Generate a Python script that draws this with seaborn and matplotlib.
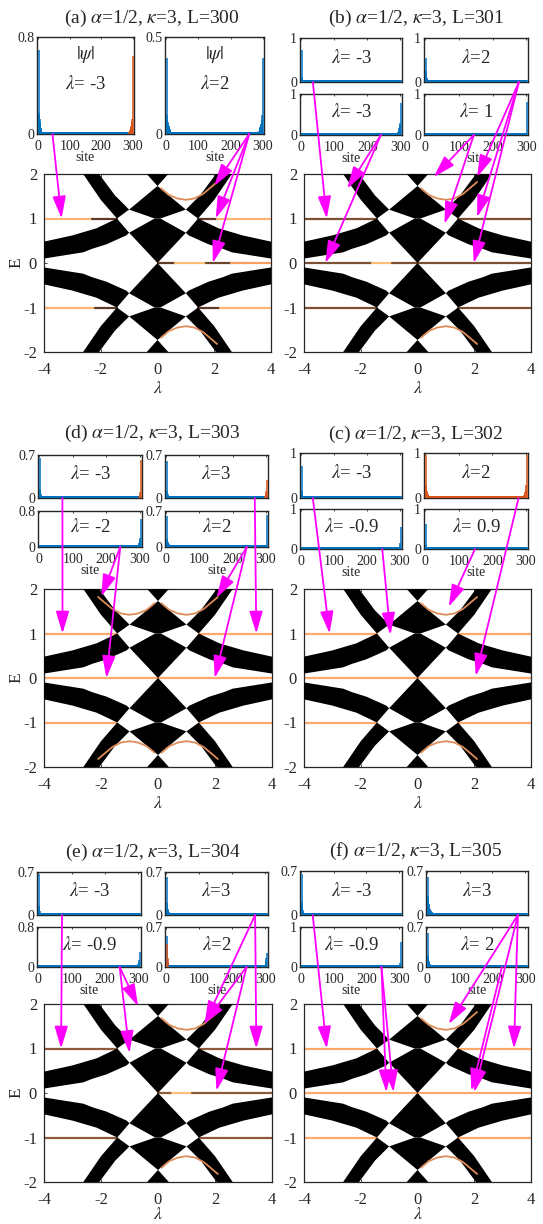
import numpy as np
import matplotlib
matplotlib.use("Agg")
import matplotlib.pyplot as plt
import seaborn as sns
from matplotlib.patches import ConnectionPatch, ArrowStyle

sns.set_theme(style="ticks")
plt.rcParams["font.family"] = ["Liberation Serif", "DejaVu Serif"]
plt.rcParams["mathtext.fontset"] = "stix"
plt.rcParams["axes.unicode_minus"] = False

W, H = 543, 1224
BLUE, ORANGE, MAGENTA = "#0072BD", "#D95319", "#FF00FF"

# ---------------- spectrum: bulk band regions (lambda<=0, E>=0 quadrant) ----------------
ARM_LAM = [-2.62, -2.0, -1.43, -1.0, -1.5, -2.06]
ARM_E = [2.0, 1.42, 1.0, 1.2, 1.52, 2.0]
WING_LAM = [-4.0, -3.0, -2.15, -1.43, -1.0, -1.1, -1.8, -2.3, -2.62, -4.0]
WING_E = [0.48, 0.62, 0.78, 1.0, 0.68, 0.62, 0.42, 0.32, 0.24, 0.10]
# central chain (symmetric in lambda)
CTOP_LAM = [-0.38, 0.38, 0.0]
CTOP_E = [2.0, 2.0, 1.73]
CUP_LAM = [0.0, -1.0, -0.1, 0.1, 1.0]
CUP_E = [1.73, 1.2, 1.0, 1.0, 1.2]
CLOW_LAM = [-0.1, -1.0, 0.0, 1.0, 0.1]
CLOW_E = [1.0, 0.68, 0.0, 0.68, 1.0]

# edge-state branch between the central chain and the arm (lambda>0, E>0)
EDGE_LAM = [0.12, 0.4, 0.7, 1.0, 1.3, 1.6, 1.88, 2.1]
EDGE_E = [1.68, 1.53, 1.45, 1.42, 1.45, 1.55, 1.70, 1.82]

# flat levels: (E, lambda from, lambda to, copper shade)
LINES_A = [(1, -4, -2.3, .9), (1, -2.3, -1.43, .3), (1, 1.43, 2.1, .3), (1, 2.1, 4, .9),
           (-1, -4, -2.2, .9), (-1, -2.2, -1.43, .3), (-1, 1.43, 2.2, .3), (-1, 2.2, 4, .9),
           (0, 0, .6, .3), (0, .6, 1.7, .95), (0, 1.7, 2.6, .35), (0, 2.6, 4, .8)]
LINES_B = [(1, -4, -1.43, .4), (1, 1.43, 4, .4), (-1, -4, -1.43, .4), (-1, 1.43, 4, .4),
           (0, -4, -1.6, .4), (0, -1.6, -0.9, .95), (0, -0.9, 4, .4)]
LINES_D = [(1, -4, -1.43, .85), (1, 1.43, 4, .85), (-1, -4, -1.43, .85), (-1, 1.43, 4, .85),
           (0, -4, 4, .85)]
LINES_C = [(1, -4, -1.43, .85), (1, 1.43, 4, .85), (-1, -4, -1.43, .85), (-1, 1.43, 4, .85),
           (0, -4, 4, .85)]
LINES_E = [(1, -4, -1.43, .45), (1, 1.43, 4, .45), (-1, -4, -1.43, .45), (-1, 1.43, 4, .45),
           (0, 0, .5, .45), (0, .5, 1.2, .95), (0, 1.2, 4, .45)]
LINES_F = [(1, -4, -1.43, .85), (1, 1.43, 4, .85), (-1, -4, -1.43, .85), (-1, 1.43, 4, .85),
           (0, -4, 4, .85)]

# which quadrants carry the edge-state branch: (sign of lambda, sign of E)
CURVES_A = [(1, 1), (1, -1)]
CURVES_B = [(1, 1), (1, -1)]
CURVES_D = [(1, 1), (-1, 1), (1, -1), (-1, -1)]
CURVES_C = [(1, 1), (1, -1)]
CURVES_E = [(1, 1), (1, -1)]
CURVES_F = [(1, 1), (1, -1)]

TITLES = [r"(a) $\alpha$=1/2, $\kappa$=3, L=300", r"(b) $\alpha$=1/2, $\kappa$=3, L=301",
          r"(d) $\alpha$=1/2, $\kappa$=3, L=303", r"(c) $\alpha$=1/2, $\kappa$=3, L=302",
          r"(e) $\alpha$=1/2, $\kappa$=3, L=304", r"(f) $\alpha$=1/2, $\kappa$=3, L=305"]
SIZES = [300, 301, 303, 302, 304, 305]

# ---------------- |psi| per site: (label, ymax, blue left, blue right, orange left, orange right) ----
INSETS_A = [(r"$\lambda$= -3", 0.8, [0.69, 0.17, 0.15, 0.12, 0.1, 0.08, 0.06, 0.05, 0.04, 0.03, 0.02], [],
             [], [0.64, 0.12, 0.1, 0.08, 0.07, 0.06, 0.05, 0.04, 0.03, 0.025, 0.02, 0.015]),
            (r"$\lambda$=2", 0.5, [0.39, 0.1, 0.07, 0.06, 0.05, 0.045, 0.04, 0.035, 0.03, 0.025, 0.02, 0.015],
             [0.39, 0.1, 0.07, 0.06, 0.05, 0.045, 0.04, 0.035, 0.03, 0.025, 0.02, 0.015], [], [])]
INSETS_B = [(r"$\lambda$= -3", 1, [0.73, 0.12, 0.06, 0.04, 0.03, 0.02], [], [], []),
            (r"$\lambda$=2", 1, [0.55, 0.25, 0.12, 0.08, 0.06, 0.05, 0.04, 0.03, 0.02], [], [], []),
            (r"$\lambda$= -3", 1, [], [0.78, 0.3, 0.25, 0.2, 0.16, 0.13, 0.1, 0.08, 0.07, 0.06, 0.05,
                                       0.04, 0.03, 0.02], [], []),
            (r"$\lambda$= 1", 1, [], [0.8, 0.05, 0.03, 0.02], [], [])]
INSETS_D = [(r"$\lambda$= -3", 0.7, [0.65, 0.15, 0.1, 0.06, 0.04, 0.03, 0.02], [], [],
             [0.62, 0.1, 0.05, 0.03, 0.02]),
            (r"$\lambda$=3", 0.7, [0.6, 0.12, 0.08, 0.06, 0.04, 0.03, 0.02], [], [],
             [0.3, 0.12, 0.08, 0.05, 0.03]),
            (r"$\lambda$= -2", 0.8, [], [0.62, 0.2, 0.15, 0.12, 0.1, 0.08, 0.06, 0.05, 0.04, 0.03, 0.02],
             [], []),
            (r"$\lambda$=2", 0.7, [0.6, 0.15, 0.12, 0.1, 0.08, 0.06, 0.05, 0.04, 0.03, 0.02],
             [0.62, 0.04, 0.02], [], [])]
INSETS_C = [(r"$\lambda$= -3", 1, [0.72, 0.15, 0.08, 0.05, 0.03, 0.02], [], [], []),
            (r"$\lambda$=2", 1, [], [],
             [0.95, 0.3, 0.2, 0.16, 0.13, 0.1, 0.08, 0.06, 0.05, 0.04, 0.03, 0.025],
             [0.95, 0.3, 0.2, 0.16, 0.13, 0.1, 0.08, 0.06, 0.05, 0.04, 0.03, 0.025]),
            (r"$\lambda$= -0.9", 1, [], [0.55, 0.15, 0.08, 0.05, 0.03], [], []),
            (r"$\lambda$= 0.9", 1, [0.62, 0.1, 0.05, 0.03], [], [], [])]
INSETS_E = [(r"$\lambda$= -3", 0.7, [0.66, 0.15, 0.1, 0.06, 0.04, 0.03, 0.02], [], [], []),
            (r"$\lambda$=3", 0.7, [0.62, 0.2, 0.12, 0.1, 0.08, 0.06, 0.05, 0.04, 0.03, 0.02], [], [], []),
            (r"$\lambda$= -0.9", 0.8, [], [0.3, 0.15, 0.1, 0.08, 0.06, 0.04, 0.03, 0.02], [], []),
            (r"$\lambda$=2", 0.7, [0.55, 0.15, 0.1, 0.08, 0.06, 0.04, 0.03, 0.02],
             [0.25, 0.15, 0.1, 0.06, 0.03], [0.4, 0.04, 0.04, 0.15], [])]
INSETS_F = [(r"$\lambda$= -3", 0.7, [0.66, 0.2, 0.15, 0.08, 0.05, 0.03, 0.02], [], [], []),
            (r"$\lambda$=3", 0.7, [0.6, 0.3, 0.22, 0.18, 0.15, 0.12, 0.1, 0.09, 0.08, 0.07, 0.06, 0.05,
                                   0.045, 0.04, 0.035, 0.03, 0.025, 0.02, 0.018, 0.015, 0.012], [], [], []),
            (r"$\lambda$= -0.9", 1, [], [0.62, 0.1, 0.06, 0.04, 0.03, 0.02], [], []),
            (r"$\lambda$= 2", 0.7, [0.6, 0.2, 0.15, 0.1, 0.08, 0.06, 0.05, 0.04, 0.03, 0.02, 0.015],
             [], [], [])]

# arrows: (inset index, site, lambda, E)
ARROWS_A = [(0, 45, -3.38, 1.0), (1, 258, 2.0, 1.73), (1, 258, 2.05, 1.0), (1, 258, 1.95, 0.0)]
ARROWS_B = [(0, 35, -3.2, 1.0), (2, 241, -2.48, 1.67), (2, 241, -3.25, 0.0),
            (3, 144, 0.57, 1.93), (3, 144, 0.95, 0.88),
            (1, 278, 2.1, 1.93), (1, 278, 2.1, 1.03), (1, 278, 1.98, 0.0)]
ARROWS_D = [(0, 69, -3.35, 1.0), (1, 267, 3.45, 1.0), (2, 242, -1.99, 1.83), (2, 242, -1.81, 0.0),
            (3, 243, 2.05, 1.8), (3, 243, 1.99, 0.0)]
ARROWS_C = [(0, 35, -3.1, 1.0), (2, 246, -0.95, 0.97), (3, 148, 1.1, 1.6), (1, 278, 2.05, 0.05)]
ARROWS_E = [(0, 71, -3.4, 1.0), (1, 269, 3.45, 1.0), (1, 269, 1.64, 1.57),
            (2, 244, -0.7, 1.95), (2, 244, -1.0, 0.9), (3, 243, 2.05, 0.05), (3, 243, 1.6, 1.55)]
ARROWS_F = [(0, 35, -3.2, 1.0), (2, 246, -1.1, 0.02), (2, 246, -0.85, 0.02),
            (1, 278, 1.1, 1.55), (1, 278, 3.4, 1.0), (1, 278, 2.0, 0.02), (3, 229, 1.9, 0.05)]

# ---------------- layout (pixel boxes: left, top, right, bottom) ----------------
MAIN_BOX = [(44, 174, 271, 352), (304, 174, 531, 352), (44, 589, 272, 767),
            (304, 589, 531, 767), (44, 1004, 272, 1182), (304, 1004, 531, 1182)]
XLABEL_Y = [-0.16, -0.16, -0.16, -0.16, -0.135, -0.135]
TITLE_POS = [(152, 18), (416, 18), (152, 433), (416, 434), (153, 852), (416, 851)]
INSET_BOX = [
    [(37, 37, 134, 134), (165, 37, 264, 134)],
    [(300, 38, 402, 82), (424, 38, 528, 82), (300, 94, 402, 135), (424, 94, 528, 135)],
    [(38, 455, 142, 498), (165, 455, 268, 498), (38, 511, 142, 547), (165, 511, 268, 547)],
    [(300, 453, 402, 498), (424, 453, 528, 498), (300, 509, 402, 549), (424, 509, 528, 549)],
    [(37, 872, 141, 915), (165, 872, 268, 915), (37, 927, 141, 967), (165, 927, 268, 967)],
    [(300, 871, 402, 915), (426, 871, 528, 915), (300, 927, 402, 967), (426, 927, 528, 967)],
]

fig = plt.figure(figsize=(W / 100, H / 100), dpi=100)
fig.patch.set_facecolor("white")


def add_box(box):
    l, t, r, b = box
    return fig.add_axes([l / W, 1 - b / H, (r - l) / W, (b - t) / H])


def style_spines(ax, lw=0.9):
    for s in ax.spines.values():
        s.set_color("#262626")
        s.set_linewidth(lw)
    ax.tick_params(direction="in", color="#262626", length=2.5, width=0.6,
                   top=True, right=True)


def draw_bands(ax):
    for sl in (1, -1):
        for se in (1, -1):
            ax.fill([sl * v for v in ARM_LAM], [se * v for v in ARM_E], color="black", lw=0, zorder=3)
            ax.fill([sl * v for v in WING_LAM], [se * v for v in WING_E], color="black", lw=0, zorder=3)
    for se in (1, -1):
        ax.fill(CTOP_LAM, [se * v for v in CTOP_E], color="black", lw=0, zorder=3)
        ax.fill(CUP_LAM, [se * v for v in CUP_E], color="black", lw=0, zorder=3)
        ax.fill(CLOW_LAM, [se * v for v in CLOW_E], color="black", lw=0, zorder=3)


def draw_main(ax, lines, curves, left_col, xlabel_y):
    draw_bands(ax)
    for e, l0, l1, shade in lines:
        sns.lineplot(x=[l0, l1], y=[e, e], ax=ax, color=plt.cm.copper(shade), lw=1.6,
                     legend=False, zorder=2)
    for sl, se in curves:
        sns.lineplot(x=[sl * v for v in EDGE_LAM], y=[se * v for v in EDGE_E], ax=ax,
                     color=plt.cm.copper(0.7), lw=1.3, legend=False, sort=False, zorder=4)
    ax.set_xlim(-4, 4)
    ax.set_ylim(-2, 2)
    ax.set_xticks([-4, -2, 0, 2, 4])
    ax.set_yticks([-2, -1, 0, 1, 2])
    style_spines(ax)
    ax.tick_params(axis="x", labelsize=12, pad=7)
    ax.tick_params(axis="y", labelsize=12, pad=5)
    ax.set_xlabel(r"$\lambda$", fontsize=13)
    ax.xaxis.set_label_coords(0.5, xlabel_y)
    if left_col:
        ax.set_ylabel("E", fontsize=12.5)
        ax.yaxis.set_label_coords(-0.085, 0.5)
    else:
        ax.set_ylabel("")


def profile(n, left, right, floor):
    y = np.full(n, floor)
    if left:
        y[:len(left)] = left
    if right:
        y[n - len(right):] = right[::-1]
    return y


def draw_inset(ax, spec, n, show_x, psi_tag, height_px):
    label, ymax, bl, br, ol, orr = spec
    sites = np.arange(1, n + 1)
    floor = 1.8 / height_px * ymax
    if bl or br:
        ax.vlines(sites, 0, profile(n, bl, br, floor), color=BLUE, lw=1.1, zorder=3)
    if ol or orr:
        base = 0.0 if (bl or br) else floor
        ax.vlines(sites, 0, profile(n, ol, orr, base), color=ORANGE, lw=1.1, zorder=4)
    ax.set_xlim(-4, n + 4)
    ax.set_ylim(0, ymax)
    ax.set_yticks([0, ymax])
    ax.set_yticklabels(["0", f"{ymax:g}"])
    ax.set_xticks([0, 100, 200, 300])
    style_spines(ax, 1.0)
    ax.tick_params(labelsize=10, length=1.5)
    ax.tick_params(axis="x", pad=4)
    ax.tick_params(axis="y", pad=2)
    if show_x:
        ax.set_xticklabels(["0", "100", "200", "300"])
        ax.set_xlabel("site", fontsize=10, labelpad=-1)
    else:
        ax.set_xticklabels([])
    if psi_tag:
        ax.text(0.5, 0.82, r"$|\psi|$", transform=ax.transAxes, ha="center", va="center", fontsize=13.5)
        ax.text(0.5, 0.52, label, transform=ax.transAxes, ha="center", va="center", fontsize=13.5)
    else:
        ax.text(0.5, 0.55, label, transform=ax.transAxes, ha="center", va="center", fontsize=13.5)


ALL_LINES = [LINES_A, LINES_B, LINES_D, LINES_C, LINES_E, LINES_F]
ALL_CURVES = [CURVES_A, CURVES_B, CURVES_D, CURVES_C, CURVES_E, CURVES_F]
ALL_INSETS = [INSETS_A, INSETS_B, INSETS_D, INSETS_C, INSETS_E, INSETS_F]
ALL_ARROWS = [ARROWS_A, ARROWS_B, ARROWS_D, ARROWS_C, ARROWS_E, ARROWS_F]

head = ArrowStyle("-|>", head_length=0.9, head_width=0.27)

for p in range(6):
    main = add_box(MAIN_BOX[p])
    draw_main(main, ALL_LINES[p], ALL_CURVES[p], p % 2 == 0, XLABEL_Y[p])
    tx, ty = TITLE_POS[p]
    fig.text(tx / W, 1 - ty / H, TITLES[p], ha="center", va="center", fontsize=14)
    insets = []
    n_in = len(INSET_BOX[p])
    for k, box in enumerate(INSET_BOX[p]):
        ax = add_box(box)
        show_x = (n_in == 2) or (k >= 2)
        draw_inset(ax, ALL_INSETS[p][k], SIZES[p], show_x, n_in == 2, box[3] - box[1])
        insets.append(ax)
    for k, site, lam, e in ALL_ARROWS[p]:
        con = ConnectionPatch(xyA=(site, 0), coordsA=insets[k].transData,
                              xyB=(lam, e), coordsB=main.transData,
                              arrowstyle=head, color=MAGENTA, lw=1.3, mutation_scale=15,
                              shrinkA=0, shrinkB=0, zorder=30)
        fig.add_artist(con)

fig.savefig("out.png", dpi=100, facecolor="white")
